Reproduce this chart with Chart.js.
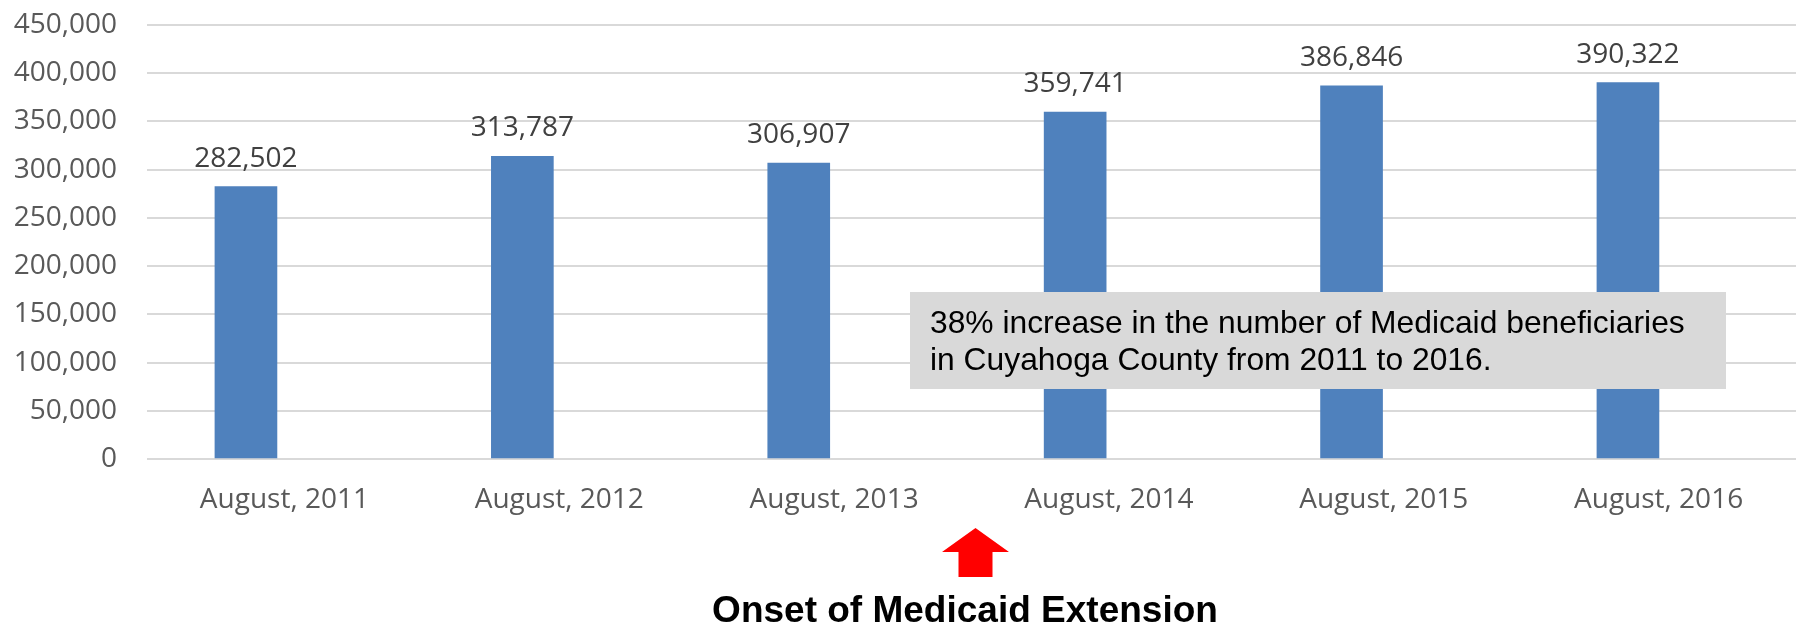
<!DOCTYPE html>
<html>
<head>
<meta charset="utf-8">
<script src="https://cdn.jsdelivr.net/npm/chart.js@4.4.1/dist/chart.umd.min.js"></script>
<style>
  html, body { margin: 0; padding: 0; background: #ffffff; }
  #wrap { width: 1796px; height: 626px; position: relative; }
</style>
</head>
<body>
<div id="wrap"><canvas id="c" width="1796" height="626"></canvas></div>
<script>
// ---- data ----
const categories = ["August, 2011", "August, 2012", "August, 2013", "August, 2014", "August, 2015", "August, 2016"];
const beneficiaries = [282502, 313787, 306907, 359741, 386846, 390322];
const yTicks = [0, 50000, 100000, 150000, 200000, 250000, 300000, 350000, 400000, 450000];
const noteLines = ["38% increase in the number of Medicaid beneficiaries", "in Cuyahoga County from 2011 to 2016."];
const onsetLabel = "Onset of Medicaid Extension";

const fmt = v => Number(v).toLocaleString('en-US');

const overlayPlugin = {
  id: 'overlay',
  afterDatasetsDraw(chart) {
    const ctx = chart.ctx;
    const meta = chart.getDatasetMeta(0);
    // data labels
    ctx.save();
    ctx.font = '28px "Open Sans"';
    ctx.fillStyle = '#404040';
    ctx.textAlign = 'center';
    ctx.textBaseline = 'alphabetic';
    meta.data.forEach((bar, i) => {
      ctx.fillText(fmt(beneficiaries[i]), bar.x, bar.y - 20);
    });
    ctx.restore();

    // note box
    ctx.save();
    ctx.fillStyle = '#d9d9d9';
    ctx.fillRect(910, 292, 816, 97);
    ctx.fillStyle = '#000000';
    ctx.font = '31.8px "Liberation Sans", Arial, sans-serif';
    ctx.textAlign = 'left';
    ctx.textBaseline = 'alphabetic';
    ctx.fillText(noteLines[0], 930, 333);
    ctx.fillText(noteLines[1], 930, 370);
    ctx.restore();

    // arrow
    const xs = chart.scales.x;
    const ax = (xs.getPixelForValue(2) + xs.getPixelForValue(3)) / 2 + 4;
    ctx.save();
    ctx.fillStyle = '#ff0000';
    ctx.beginPath();
    ctx.moveTo(ax, 528);
    ctx.lineTo(ax + 33.5, 552);
    ctx.lineTo(ax + 17, 552);
    ctx.lineTo(ax + 17, 577);
    ctx.lineTo(ax - 17, 577);
    ctx.lineTo(ax - 17, 552);
    ctx.lineTo(ax - 33.5, 552);
    ctx.closePath();
    ctx.fill();
    // onset label
    ctx.fillStyle = '#000000';
    ctx.font = 'bold 37px "Liberation Sans", Arial, sans-serif';
    ctx.textAlign = 'center';
    ctx.textBaseline = 'alphabetic';
    ctx.fillText(onsetLabel, 965, 622);
    ctx.restore();
  }
};

new Chart(document.getElementById('c'), {
  type: 'bar',
  data: {
    labels: categories,
    datasets: [{
      data: beneficiaries.map((v, i) => ({ x: i, y: v })),
      backgroundColor: '#4f81bd',
      borderWidth: 0,
      barThickness: 62,
      xAxisID: 'xb',
      yAxisID: 'y'
    }]
  },
  options: {
    responsive: false,
    devicePixelRatio: 1,
    animation: false,
    layout: { padding: { top: 25, right: 0, bottom: 0, left: 0 } },
    plugins: { legend: { display: false }, tooltip: { enabled: false } },
    scales: {
      x: {
        type: 'category',
        labels: categories,
        offset: true,
        position: 'bottom',
        grid: { display: false, drawTicks: false },
        border: { display: false },
        ticks: {
          font: { family: '"Open Sans"', size: 28 },
          color: '#595959',
          padding: 24,
          maxRotation: 0,
          autoSkip: false
        },
        afterFit(s) { s.height = 167; s.paddingLeft = 0; s.paddingRight = 0; }
      },
      xb: {
        type: 'linear',
        display: false,
        min: -0.358,
        max: 5.608,
        offset: false
      },
      y: {
        type: 'linear',
        min: 0,
        max: 450000,
        afterBuildTicks(s) { s.ticks = yTicks.map(v => ({ value: v })); },
        grid: { color: '#d9d9d9', lineWidth: 2, drawTicks: false },
        border: { display: false },
        ticks: {
          font: { family: '"Open Sans"', size: 28 },
          color: '#595959',
          padding: 30,
          callback: v => fmt(v)
        },
        afterFit(s) { s.width = 147; s.paddingTop = 0; s.paddingBottom = 0; }
      }
    }
  },
  plugins: [overlayPlugin]
});
</script>
</body>
</html>
